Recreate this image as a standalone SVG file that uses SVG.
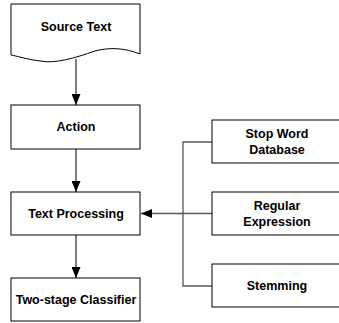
<svg xmlns="http://www.w3.org/2000/svg" width="339" height="323" viewBox="0 0 339 323">
<defs>
<style>
.box{fill:#fff;stroke:#000;stroke-width:1}
.t{font-family:"Liberation Sans",Arial,sans-serif;font-weight:bold;font-size:12.5px;fill:#000;text-anchor:middle}
.c{fill:none;stroke:#000;stroke-width:1}
.g{fill:none;stroke:#555;stroke-width:1.3}
</style>
<marker id="ah" markerWidth="11" markerHeight="9" refX="11" refY="4.5" orient="auto" markerUnits="userSpaceOnUse">
<path d="M0,0 L11,4.5 L0,9 Z" fill="#000"/>
</marker>
</defs>
<rect width="339" height="323" fill="#fff"/>
<g id="connectors">
<line class="c" x1="76" y1="59" x2="76" y2="105" marker-end="url(#ah)"/>
<line class="c" x1="76" y1="149" x2="76" y2="192" marker-end="url(#ah)"/>
<line class="c" x1="76" y1="235" x2="76" y2="278" marker-end="url(#ah)"/>
<polyline class="g" points="212,142 183,142 183,286 212,286"/>
<line class="g" x1="212" y1="213.5" x2="141" y2="213.5" marker-end="url(#ah)"/>
</g>
<g id="source-text">
<path class="box" d="M11,4 L140,4 L140,54 C125,48 110,47 95,51 C75,58 55,64 40,61 C25,59 17,56 11,55 Z"/>
<text class="t" x="76" y="31">Source Text</text>
</g>
<g id="action">
<rect class="box" x="11" y="105" width="129" height="44"/>
<text class="t" x="76" y="131">Action</text>
</g>
<g id="text-processing">
<rect class="box" x="11" y="192" width="129" height="43"/>
<text class="t" x="76" y="218">Text Processing</text>
</g>
<g id="two-stage-classifier">
<rect class="box" x="11" y="278" width="129" height="43"/>
<text class="t" x="76" y="304">Two-stage Classifier</text>
</g>
<g id="stop-word-database">
<rect class="box" x="212" y="120" width="130" height="43"/>
<text class="t" x="277" y="138">Stop Word</text>
<text class="t" x="277" y="154">Database</text>
</g>
<g id="regular-expression">
<rect class="box" x="212" y="192" width="130" height="43"/>
<text class="t" x="277" y="210">Regular</text>
<text class="t" x="277" y="226">Expression</text>
</g>
<g id="stemming">
<rect class="box" x="212" y="264" width="130" height="43"/>
<text class="t" x="277" y="290">Stemming</text>
</g>
</svg>
